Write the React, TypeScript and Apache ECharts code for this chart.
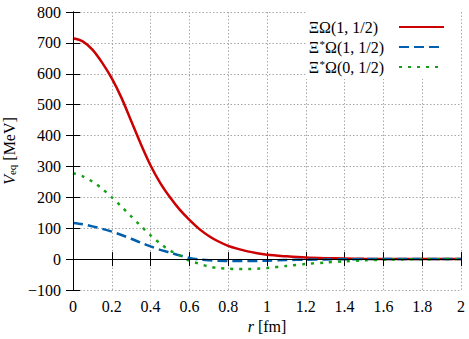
import React, { useEffect, useRef } from "react";
import * as echarts from "echarts";

const rValues = [0, 0.05, 0.1, 0.15, 0.2, 0.25, 0.3, 0.35, 0.4, 0.45, 0.5, 0.55, 0.6, 0.65, 0.7, 0.75, 0.8, 0.85, 0.9, 0.95, 1.0, 1.1, 1.2, 1.3, 1.4, 1.5, 1.6, 1.7, 1.8, 1.9, 2.0];
const xiOmega1 = [715, 705, 678, 636, 585, 522, 447, 372, 303, 246, 200, 160, 127, 98, 75, 57, 43, 33, 25, 19, 14, 9, 5, 3, 2, 1, 0.5, 0.3, 0.1, 0, 0];
const xiStarOmega1 = [117, 113, 106, 98, 89, 78, 66, 53, 41, 30, 21, 12, 4, -1, -4, -5.5, -6, -6.5, -6.5, -6, -5, -3, -2, -1, -0.5, 0, 0, 0, 0, 0, 0];
const xiStarOmega0 = [278, 268, 251, 228, 200, 170, 138, 107, 77, 50, 28, 12, -5, -15, -24, -29, -31, -32, -32, -31, -29, -22, -16, -11, -7, -4, -2, -1, -0.5, 0, 0];

const seriesNames = ["ΞΩ(1, 1/2)", "Ξ*Ω(1, 1/2)", "Ξ*Ω(0, 1/2)"];
const seriesColors = ["#cc0000", "#0060ad", "#16a016"];
const xTicks = { min: 0, max: 2, interval: 0.2 };
const yTicks = { min: -100, max: 800, interval: 100 };

const FONT = "Liberation Serif";

export default function App() {
  const ref = useRef<HTMLDivElement>(null);
  useEffect(() => {
    if (!ref.current) return;
    const chart = echarts.init(ref.current, undefined, { renderer: "svg" });
    const toData = (vals: number[]) => rValues.map((r, i) => [r, vals[i]]);
    const axisCommon = {
      axisLine: { show: true, lineStyle: { color: "#000", width: 1 } },
      axisTick: { show: true, inside: true, length: 7, lineStyle: { color: "#000", width: 1 } },
    };
    const labelRich = { v: { fontSize: 16, fontFamily: FONT, color: "#000" } };
    const option: any = {
      animation: false,
      backgroundColor: "#fff",
      textStyle: { fontFamily: FONT },
      grid: { left: 73, right: 8, top: 12, bottom: 49, containLabel: false, outerBoundsMode: "none" },
      legend: {
        data: seriesNames,
        orient: "vertical",
        right: 8,
        top: 12,
        align: "right",
        backgroundColor: "#fff",
        padding: [7, 16, 4, 3],
        itemGap: 3,
        itemWidth: 45,
        itemHeight: 14,
        itemStyle: { opacity: 0 },
        z: 4,
        formatter: (name: string) => {
          if (name.includes("*")) {
            const [a, b] = name.split("*");
            return `{n|${a}}{s|*}{n|${b}}{g|}`;
          }
          return `{n|${name}}{g2|}`;
        },
        textStyle: {
          fontFamily: FONT,
          fontSize: 16,
          color: "#000",
          rich: {
            n: { fontSize: 16, lineHeight: 18, fontFamily: FONT, color: "#000" },
            s: { fontSize: 11, width: 6, verticalAlign: "top", lineHeight: 12, fontFamily: FONT, color: "#000" },
            g: { width: 10 },
            g2: { width: 16 },
          },
        },
      },
      xAxis: [
        {
          type: "value",
          ...xTicks,
          position: "bottom",
          ...axisCommon,
          axisLabel: {
            fontSize: 16,
            color: "#000",
            fontFamily: FONT,
            margin: 8,
            formatter: (v: number) => `{v|${v}}`,
            rich: labelRich,
          },
          splitLine: { show: true, lineStyle: { color: "#a8a8a8", type: [1.5, 2], width: 1 } },
          name: "{i|r} [fm]",
          nameLocation: "middle",
          nameGap: 27,
          nameTextStyle: {
            fontSize: 16,
            color: "#000",
            fontFamily: FONT,
            rich: { i: { fontStyle: "italic", fontSize: 16, fontFamily: FONT, color: "#000" } },
          },
        },
        {
          type: "value",
          ...xTicks,
          position: "top",
          ...axisCommon,
          z: 6,
          axisLabel: { show: false },
          splitLine: { show: false },
        },
      ],
      yAxis: [
        {
          type: "value",
          ...yTicks,
          position: "left",
          ...axisCommon,
          axisLabel: {
            fontSize: 16,
            color: "#000",
            fontFamily: FONT,
            margin: 12,
            formatter: (v: number) => `{v|${String(v).replace("-", "\u2212")}}`,
            rich: labelRich,
          },
          splitLine: { show: true, lineStyle: { color: "#a8a8a8", type: [1.5, 2], width: 1 } },
          name: "{i|V}{s|eq} [MeV]",
          nameLocation: "middle",
          nameGap: 51,
          nameTextStyle: {
            fontSize: 16,
            color: "#000",
            fontFamily: FONT,
            rich: {
              i: { fontStyle: "italic", fontSize: 16, fontFamily: FONT, color: "#000" },
              s: { fontSize: 11, verticalAlign: "bottom", fontFamily: FONT, color: "#000" },
            },
          },
        },
        {
          type: "value",
          ...yTicks,
          position: "right",
          ...axisCommon,
          z: 6,
          axisLabel: { show: false },
          splitLine: { show: false },
        },
      ],
      series: [
        {
          name: seriesNames[0],
          type: "line",
          data: toData(xiOmega1),
          smooth: 0.3,
          showSymbol: false,
          symbol: "none",
          color: seriesColors[0],
          lineStyle: { color: seriesColors[0], width: 2.5 },
        },
        {
          name: seriesNames[1],
          type: "line",
          data: toData(xiStarOmega1),
          smooth: 0.3,
          showSymbol: false,
          symbol: "none",
          color: seriesColors[1],
          lineStyle: { color: seriesColors[1], width: 2.5, type: [10, 5] },
        },
        {
          name: seriesNames[2],
          type: "line",
          data: toData(xiStarOmega0),
          smooth: 0.3,
          showSymbol: false,
          symbol: "none",
          color: seriesColors[2],
          lineStyle: { color: seriesColors[2], width: 2.5, type: [3, 6] },
        },
      ],
    };
    chart.setOption(option);
    return () => chart.dispose();
  }, []);
  return (
    <div
      ref={ref}
      style={{ position: "fixed", left: 0, top: 0, width: 469, height: 339, background: "#fff" }}
    />
  );
}
